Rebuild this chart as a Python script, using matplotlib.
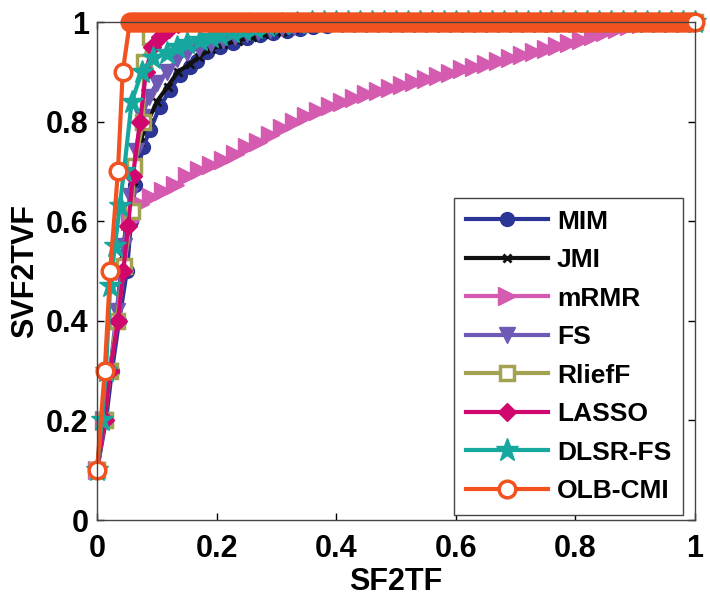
import numpy as np
import matplotlib
matplotlib.use("Agg")
import matplotlib.pyplot as plt

plt.rcParams['font.family'] = ['Liberation Sans', 'DejaVu Sans']
plt.rcParams['font.weight'] = 'bold'

# rising parts of each curve, the rest sits on y = 1
MIM_x = [0, 0.015, 0.025, 0.037, 0.05, 0.057, 0.064, 0.077, 0.089, 0.105, 0.122, 0.139, 0.156,
         0.168, 0.184, 0.206, 0.227, 0.25, 0.273, 0.294, 0.318, 0.34, 0.362, 0.385, 0.41, 0.435, 0.46]
MIM_y = [0.1, 0.2, 0.3, 0.4, 0.5, 0.6, 0.673, 0.75, 0.783, 0.83, 0.863, 0.894, 0.91,
         0.922, 0.94, 0.95, 0.958, 0.967, 0.974, 0.978, 0.982, 0.986, 0.989, 0.992, 0.995, 0.997, 1.0]

JMI_x = [0, 0.013, 0.022, 0.033, 0.042, 0.05, 0.06, 0.072, 0.085, 0.1, 0.118, 0.135, 0.155,
         0.17, 0.19, 0.21, 0.235, 0.26, 0.28, 0.31, 0.33, 0.36, 0.39, 0.42, 0.45]
JMI_y = [0.1, 0.2, 0.3, 0.4, 0.53, 0.6, 0.68, 0.76, 0.8, 0.84, 0.87, 0.9, 0.915,
         0.93, 0.945, 0.955, 0.962, 0.97, 0.976, 0.98, 0.985, 0.99, 0.994, 0.997, 1.0]

mRMR_x = [0, 0.012, 0.022, 0.033, 0.045, 0.055, 0.072, 0.09, 0.11, 0.13, 0.15, 0.17, 0.19, 0.21,
          0.23, 0.25, 0.27, 0.29, 0.31, 0.33, 0.35, 0.37, 0.39, 0.41, 0.43, 0.45, 0.47, 0.49,
          0.51, 0.53, 0.55, 0.57, 0.59, 0.61, 0.63, 0.65, 0.67, 0.69, 0.71, 0.73, 0.75, 0.77,
          0.79, 0.81, 0.83, 0.85, 0.87, 0.89, 0.91, 0.93]
mRMR_y = [0.1, 0.2, 0.3, 0.4, 0.5, 0.6, 0.635, 0.648, 0.66, 0.672, 0.69, 0.703, 0.712, 0.722,
          0.735, 0.748, 0.76, 0.773, 0.787, 0.8, 0.812, 0.822, 0.832, 0.84, 0.848, 0.856, 0.862, 0.868,
          0.874, 0.88, 0.886, 0.892, 0.898, 0.905, 0.91, 0.916, 0.922, 0.928, 0.934, 0.94, 0.946, 0.952,
          0.958, 0.964, 0.972, 0.98, 0.986, 0.992, 0.996, 1.0]

FS_x = [0, 0.012, 0.022, 0.033, 0.045, 0.055, 0.065, 0.075, 0.087, 0.1, 0.117, 0.134, 0.15,
        0.17, 0.19, 0.21, 0.23, 0.25, 0.27, 0.29, 0.31, 0.33, 0.35, 0.37, 0.39, 0.41, 0.43]
FS_y = [0.1, 0.2, 0.3, 0.42, 0.55, 0.65, 0.74, 0.81, 0.85, 0.877, 0.9, 0.925, 0.937,
        0.948, 0.956, 0.963, 0.97, 0.975, 0.979, 0.983, 0.987, 0.99, 0.993, 0.995, 0.997, 0.999, 1.0]

RliefF_x = [0, 0.013, 0.022, 0.033, 0.045, 0.058, 0.062, 0.077, 0.079, 0.089, 0.1]
RliefF_y = [0.1, 0.2, 0.3, 0.4, 0.51, 0.62, 0.71, 0.8, 0.92, 0.97, 1.0]

LASSO_x = [0, 0.013, 0.022, 0.035, 0.044, 0.052, 0.06, 0.072, 0.082, 0.092, 0.105, 0.12, 0.135, 0.15]
LASSO_y = [0.1, 0.2, 0.3, 0.4, 0.5, 0.59, 0.69, 0.8, 0.9, 0.95, 0.97, 0.985, 0.995, 1.0]

DLSR_x = [0, 0.008, 0.015, 0.022, 0.03, 0.038, 0.045, 0.058, 0.075, 0.094, 0.117, 0.134, 0.15,
          0.172, 0.19, 0.206, 0.225, 0.244, 0.265, 0.285, 0.31, 0.335, 0.36]
DLSR_y = [0.1, 0.2, 0.3, 0.47, 0.55, 0.63, 0.7, 0.84, 0.9, 0.928, 0.938, 0.95, 0.957,
          0.964, 0.969, 0.974, 0.979, 0.984, 0.988, 0.992, 0.995, 0.998, 1.0]

OLB_x = [0, 0.013, 0.022, 0.035, 0.043, 0.055]
OLB_y = [0.1, 0.3, 0.5, 0.7, 0.9, 1.0]

names = ["MIM", "JMI", "mRMR", "FS", "RliefF", "LASSO", "DLSR-FS", "OLB-CMI"]
colors = ["#2B3596", "#111111", "#D45BB0", "#6E5AB4", "#A3A252", "#D0086E", "#16A89E", "#F2521F"]
steps = [0.02, 0.02, 0.02, 0.02, 0.02, 0.02, 0.02, 0.005]


def withTail(xs, ys, step):
    # curve stays at 1 until x = 1
    tx = np.round(np.arange(xs[-1] + step, 1.0 + 1e-9, step), 3)
    return list(xs) + list(tx), list(ys) + [1.0] * len(tx)


fig = plt.figure(figsize=(7.1, 6.05), dpi=100)
ax = fig.add_axes([97 / 710, 85 / 605, 598 / 710, 498 / 605])

series = [(MIM_x, MIM_y), (JMI_x, JMI_y), (mRMR_x, mRMR_y), (FS_x, FS_y),
          (RliefF_x, RliefF_y), (LASSO_x, LASSO_y), (DLSR_x, DLSR_y), (OLB_x, OLB_y)]
styles = [dict(marker='o', ms=10, mfc=colors[0]),
          dict(marker='x', ms=6, mew=2),
          dict(marker='>', ms=13, mfc=colors[2]),
          dict(marker='v', ms=11, mfc=colors[3]),
          dict(marker='s', ms=10, mfc='white', mew=2.5),
          dict(marker='D', ms=9, mfc=colors[5]),
          dict(marker='*', ms=17, mfc=colors[6]),
          dict(marker='o', ms=12, mfc='white', mew=2.5)]

for i in range(len(names)):
    xs, ys = withTail(series[i][0], series[i][1], steps[i])
    ax.plot(xs, ys, color=colors[i], mec=colors[i], lw=3, label=names[i],
            clip_on=False, **styles[i])

ax.set_xlim(0, 1)
ax.set_ylim(0, 1)
ticks = [0, 0.2, 0.4, 0.6, 0.8, 1]
ax.set_xticks(ticks)
ax.set_yticks(ticks)
ax.set_xticklabels(["0", "0.2", "0.4", "0.6", "0.8", "1"])
ax.set_yticklabels(["0", "0.2", "0.4", "0.6", "0.8", "1"])
ax.tick_params(direction='in', length=5, width=1, top=True, right=True, labelsize=22)
ax.tick_params(axis='x', pad=10)
ax.tick_params(axis='y', pad=6)
for sp in ax.spines.values():
    sp.set_color('#444444')
    sp.set_linewidth(1)

ax.set_xlabel("SF2TF", fontsize=22, fontweight='bold', labelpad=2)
ax.set_ylabel("SVF2TVF", fontsize=22, fontweight='bold', labelpad=4)

leg = ax.legend(loc='lower right', bbox_to_anchor=(0.98, 0.01), borderaxespad=0,
                fontsize=19, handlelength=3.1, labelspacing=0.55, fancybox=False,
                framealpha=1, edgecolor='#444444', borderpad=0.45, handletextpad=0.35)
leg.get_frame().set_linewidth(1)
for t in leg.get_texts():
    t.set_fontweight('bold')

plt.savefig("out.png", dpi=100)
